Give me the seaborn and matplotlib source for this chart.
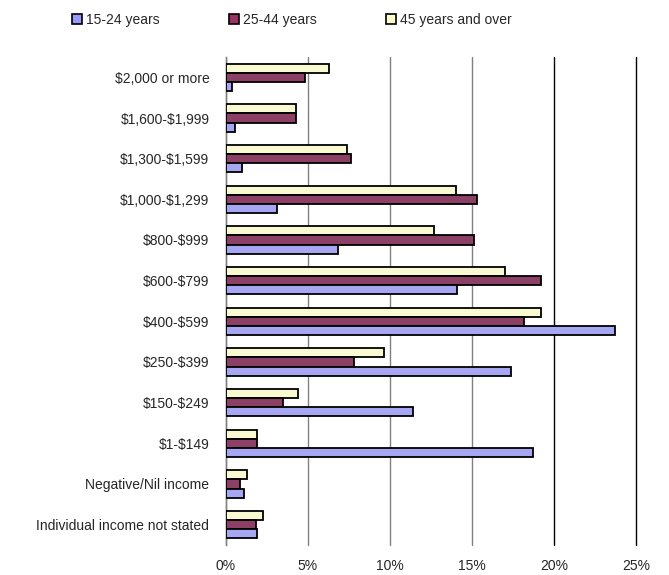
import numpy as np
import pandas as pd
import matplotlib
matplotlib.use("Agg")
import matplotlib.pyplot as plt
import seaborn as sns
from matplotlib.patches import Patch
from matplotlib.ticker import PercentFormatter

# income brackets, top to bottom
categories = ["\\$2,000 or more", "\\$1,600-\\$1,999", "\\$1,300-\\$1,599", "\\$1,000-\\$1,299",
              "\\$800-\\$999", "\\$600-\\$799", "\\$400-\\$599", "\\$250-\\$399", "\\$150-\\$249",
              "\\$1-\\$149", "Negative/Nil income", "Individual income not stated"]

age_15_24 = [0.35, 0.55, 1.0, 3.1, 6.8, 14.1, 23.7, 17.4, 11.4, 18.7, 1.1, 1.9]
age_25_44 = [4.8, 4.25, 7.65, 15.3, 15.1, 19.2, 18.2, 7.8, 3.5, 1.9, 0.85, 1.85]
age_45_up = [6.3, 4.25, 7.35, 14.0, 12.7, 17.0, 19.2, 9.65, 4.4, 1.9, 1.3, 2.25]

series_names = ["15-24 years", "25-44 years", "45 years and over"]
colors = {"15-24 years": "#9999FF", "25-44 years": "#993366", "45 years and over": "#FFFFCC"}

rows = []
for name, vals in zip(series_names, [age_15_24, age_25_44, age_45_up]):
    for c, v in zip(categories, vals):
        rows.append({"category": c, "group": name, "value": v})
df = pd.DataFrame(rows)

sns.set_style("white")
plt.rcParams["font.family"] = ["Liberation Sans", "DejaVu Sans"]

fig = plt.figure(figsize=(6.69, 5.75), dpi=100)
ax = fig.add_axes([226 / 669, 1 - 545 / 575, 410 / 669, 488 / 575])

# 45+ drawn on top within each group
hue_order = series_names[::-1]
sns.barplot(data=df, y="category", x="value", hue="group", order=categories,
            hue_order=hue_order, palette=colors, orient="h", width=0.68,
            edgecolor="black", linewidth=1.3, ax=ax, legend=False, zorder=3)

ax.set_xlim(0, 25)
ax.set_xticks([0, 5, 10, 15, 20, 25])
ax.xaxis.set_major_formatter(PercentFormatter(decimals=0))
ax.set_xlabel("")
ax.set_ylabel("")
ax.grid(axis="x", linewidth=1.0, zorder=0)
for gl, col in zip(ax.get_xgridlines(), ["#808080", "#808080", "#808080", "#808080", "black", "black"]):
    gl.set_color(col)
    gl.set_clip_on(False)
ax.set_axisbelow(True)

for s in ["top", "right", "bottom"]:
    ax.spines[s].set_visible(False)
ax.spines["left"].set_color("#808080")
ax.spines["left"].set_linewidth(1.0)

ax.tick_params(axis="x", length=4, width=1, color="black", direction="in", labelsize=10, pad=10)
ax.tick_params(axis="y", length=0, labelsize=10, pad=12)

handles = [Patch(facecolor=colors[n], edgecolor="black", linewidth=1.2, label=n) for n in series_names]
fig.legend(handles=handles, loc="center", bbox_to_anchor=(292 / 669, 1 - 20 / 575), ncol=3,
           frameon=False, fontsize=10, handlelength=0.7, handleheight=0.7,
           handletextpad=0.3, columnspacing=5.0)

fig.savefig("out.png", dpi=100)
